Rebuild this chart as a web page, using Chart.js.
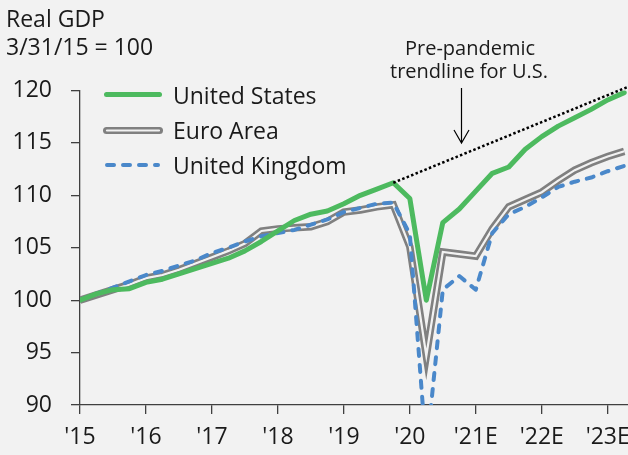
<!DOCTYPE html>
<html>
<head>
<meta charset="utf-8">
<script src="https://cdn.jsdelivr.net/npm/chart.js@4"></script>
<style>
  html, body { margin: 0; padding: 0; background: #f2f2f2; }
  #wrap { width: 628px; height: 455px; }
</style>
</head>
<body>
<div id="wrap"><canvas id="gdpChart" width="628" height="455"></canvas></div>
<script>
// Quarterly real GDP, 3/31/15 = 100 (index 0 = Q1 2015)
const yearLabels = ["'15", "'16", "'17", "'18", "'19", "'20", "'21E", "'22E", "'23E"];
const yearTicks = [0, 4, 8, 12, 16, 20, 24, 28, 32];

const unitedStates = [100.0, 100.6, 101.0, 101.1, 101.7, 102.0, 102.5, 103.0, 103.5, 104.0,
  104.7, 105.6, 106.6, 107.6, 108.2, 108.5, 109.2, 110.0, 110.6, 111.2,
  109.7, 100.0, 107.4, 108.7, 110.4, 112.1, 112.7, 114.4, 115.6, 116.6,
  117.4, 118.2, 119.1, 119.8];

const euroArea = [100.0, 100.5, 101.0, 101.5, 102.1, 102.4, 102.9, 103.5, 104.1, 104.7,
  105.4, 106.6, 106.8, 106.9, 107.0, 107.5, 108.4, 108.6, 108.9, 109.1,
  105.1, 94.7, 104.6, 104.4, 104.2, 106.8, 108.9, 109.6, 110.3, 111.4,
  112.4, 113.1, 113.7, 114.2];

const unitedKingdom = [100.0, 100.6, 101.2, 101.8, 102.4, 102.8, 103.3, 103.8, 104.5, 105.0,
  105.6, 106.1, 106.4, 106.7, 107.2, 107.7, 108.4, 108.8, 109.2, 109.3,
  106.3, 85.5, 101.0, 102.3, 101.0, 106.4, 108.2, 108.9, 109.8, 110.8,
  111.3, 111.7, 112.3, 112.8];

// pre-pandemic trendline for U.S. (start and end)
const trendQuarters = [19, 33.23];
const trendValues = [111.2, 120.35];

const BG = '#f2f2f2';
const GREEN = '#4dba5f';
const GREY = '#808080';
const BLUE = '#4a88ca';
const AXIS = '#404040';
const TEXT = '#1a1a1a';
const FONT = "'Open Sans', sans-serif";

const toPoints = (vals) => vals.map((v, i) => ({ x: i, y: v }));

// titles, legend and arrow note
const overlay = {
  id: 'overlay',
  afterDraw(chart) {
    const ctx = chart.ctx;
    ctx.save();
    ctx.fillStyle = TEXT;
    ctx.textBaseline = 'alphabetic';
    ctx.textAlign = 'left';
    ctx.font = '23px ' + FONT;
    ctx.fillText('Real GDP', 6, 27);
    ctx.fillText('3/31/15 = 100', 6, 55);

    // legend
    ctx.lineCap = 'round';
    ctx.strokeStyle = GREEN;
    ctx.lineWidth = 5;
    ctx.beginPath(); ctx.moveTo(106.5, 94.5); ctx.lineTo(159.5, 94.5); ctx.stroke();

    ctx.strokeStyle = GREY;
    ctx.lineWidth = 7;
    ctx.beginPath(); ctx.moveTo(106.5, 130.5); ctx.lineTo(159.5, 130.5); ctx.stroke();
    ctx.strokeStyle = BG;
    ctx.lineWidth = 2.2;
    ctx.beginPath(); ctx.moveTo(107, 130.5); ctx.lineTo(159, 130.5); ctx.stroke();

    ctx.strokeStyle = BLUE;
    ctx.lineWidth = 4;
    ctx.setLineDash([7, 9]);
    ctx.beginPath(); ctx.moveTo(107, 165); ctx.lineTo(158, 165); ctx.stroke();
    ctx.setLineDash([]);

    ctx.fillText('United States', 173, 104);
    ctx.fillText('Euro Area', 173, 139);
    ctx.fillText('United Kingdom', 173, 174);

    // note and arrow
    ctx.textAlign = 'center';
    ctx.font = '20px ' + FONT;
    ctx.fillText('Pre-pandemic', 470, 55);
    ctx.fillText('trendline for U.S.', 469, 78);

    ctx.strokeStyle = '#000';
    ctx.lineWidth = 1.2;
    ctx.lineCap = 'butt';
    ctx.beginPath();
    ctx.moveTo(461.5, 88); ctx.lineTo(461.5, 143);
    ctx.moveTo(454, 130); ctx.lineTo(461.5, 143); ctx.lineTo(469, 130);
    ctx.stroke();
    ctx.restore();
  }
};

const tickFont = { family: FONT, size: 23 };

new Chart(document.getElementById('gdpChart'), {
  type: 'line',
  data: {
    datasets: [
      {
        label: 'Trend',
        data: trendQuarters.map((q, i) => ({ x: q, y: trendValues[i] })),
        borderColor: '#000',
        borderWidth: 2.5,
        borderDash: [2.5, 2.3],
        clip: false
      },
      {
        label: 'United States',
        data: toPoints(unitedStates),
        borderColor: GREEN,
        borderWidth: 5,
        borderJoinStyle: 'round',
        borderCapStyle: 'round'
      },
      {
        label: 'United Kingdom',
        data: toPoints(unitedKingdom),
        borderColor: BLUE,
        borderWidth: 4,
        borderDash: [7, 9],
        borderCapStyle: 'round',
        borderJoinStyle: 'round'
      },
      {
        label: 'Euro Area inner',
        data: toPoints(euroArea),
        borderColor: BG,
        borderWidth: 2.2
      },
      {
        label: 'Euro Area',
        data: toPoints(euroArea),
        borderColor: GREY,
        borderWidth: 7.5
      }
    ]
  },
  options: {
    responsive: false,
    animation: false,
    layout: { padding: { top: 90.5, right: 0, bottom: 0, left: 0 } },
    elements: { point: { radius: 0 }, line: { tension: 0 } },
    plugins: { legend: { display: false }, tooltip: { enabled: false } },
    scales: {
      x: {
        type: 'linear',
        min: 0,
        max: 33.23,
        afterBuildTicks: (scale) => { scale.ticks = yearTicks.map(v => ({ value: v })); },
        afterFit: (scale) => { scale.height = 50; scale.paddingLeft = 0; scale.paddingRight = 0; },
        grid: { drawOnChartArea: false, tickLength: 9, color: AXIS, lineWidth: 1.3 },
        border: { color: AXIS, width: 1.3 },
        ticks: {
          callback: (v, i) => yearLabels[i],
          font: tickFont, color: TEXT, padding: 10,
          maxRotation: 0, autoSkip: false
        }
      },
      y: {
        min: 90,
        max: 120,
        afterFit: (scale) => { scale.width = 80; },
        grid: { drawOnChartArea: false, tickLength: 9, color: AXIS, lineWidth: 1.3 },
        border: { color: AXIS, width: 1.3 },
        ticks: { stepSize: 5, font: tickFont, color: TEXT, padding: 19 }
      }
    }
  },
  plugins: [overlay]
});
</script>
</body>
</html>
